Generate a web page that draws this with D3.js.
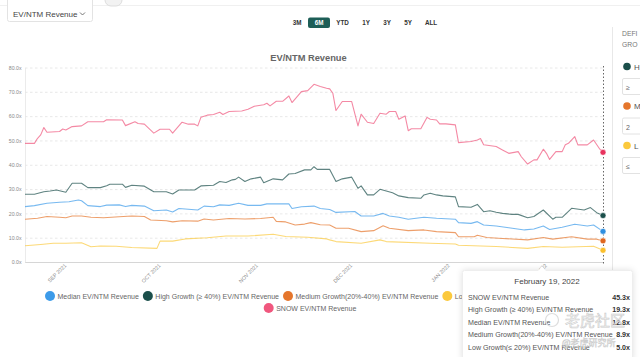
<!DOCTYPE html>
<html><head><meta charset="utf-8">
<script src="https://cdn.jsdelivr.net/npm/d3@7"></script>
<style>body{margin:0;background:#fff;} svg{display:block;font-family:"Liberation Sans",Arial,sans-serif;}</style>
</head><body><svg id="c" width="640" height="357"></svg>
<script>
// ---------- DATA ----------
const chartTitle = "EV/NTM Revenue";
const rangeButtons = ["3M","6M","YTD","1Y","3Y","5Y","ALL"];
const activeRange = "6M";
const yTicks = [0,10,20,30,40,50,60,70,80];
const dateDomain = ["2021-08-19","2022-02-19"];
const seriesNames = ["Median EV/NTM Revenue","High Growth (≥ 40%) EV/NTM Revenue","Medium Growth(20%-40%) EV/NTM Revenue","Low Growth(≤ 20%) EV/NTM Revenue","SNOW EV/NTM Revenue"];
const seriesColors = ["#3d9be9","#1b4f4b","#e5762c","#fbc93d","#f0577e"];

const median = [["2021-08-19",23.0],["2021-08-22",23.4],["2021-08-26",24.4],["2021-08-30",24.8],["2021-09-02",25.0],["2021-09-05",25.7],["2021-09-06",25.4],["2021-09-08",23.4],["2021-09-12",23.0],["2021-09-14",23.6],["2021-09-18",23.7],["2021-09-20",23.0],["2021-09-22",23.5],["2021-09-26",23.2],["2021-09-29",21.3],["2021-10-03",21.6],["2021-10-05",20.8],["2021-10-07",22.2],["2021-10-13",21.6],["2021-10-15",23.2],["2021-10-18",22.9],["2021-10-20",23.7],["2021-10-23",23.5],["2021-10-26",24.4],["2021-10-29",23.5],["2021-11-02",23.5],["2021-11-04",24.1],["2021-11-11",24.1],["2021-11-12",22.2],["2021-11-15",22.9],["2021-11-19",23.2],["2021-11-21",22.2],["2021-11-24",21.8],["2021-11-26",20.6],["2021-12-02",21.0],["2021-12-04",19.1],["2021-12-08",19.1],["2021-12-11",20.2],["2021-12-13",19.1],["2021-12-16",18.6],["2021-12-19",17.8],["2021-12-24",18.6],["2021-12-28",18.2],["2022-01-03",17.8],["2022-01-04",16.4],["2022-01-08",16.1],["2022-01-10",16.8],["2022-01-12",15.4],["2022-01-16",15.0],["2022-01-20",14.3],["2022-01-25",13.4],["2022-01-28",13.8],["2022-01-31",15.0],["2022-02-02",13.6],["2022-02-06",14.5],["2022-02-10",15.7],["2022-02-14",15.0],["2022-02-16",15.4],["2022-02-19",12.8]];

const high = [["2021-08-19",28.1],["2021-08-22",28.1],["2021-08-25",29.1],["2021-08-27",29.4],["2021-08-29",29.8],["2021-09-01",28.9],["2021-09-03",32.6],["2021-09-06",32.6],["2021-09-08",30.8],["2021-09-12",30.8],["2021-09-14",31.6],["2021-09-15",32.2],["2021-09-19",32.2],["2021-09-20",30.9],["2021-09-22",31.8],["2021-09-26",31.4],["2021-09-29",29.1],["2021-10-03",29.1],["2021-10-05",28.2],["2021-10-07",29.8],["2021-10-12",29.8],["2021-10-14",31.5],["2021-10-18",31.8],["2021-10-20",33.3],["2021-10-22",32.9],["2021-10-24",34.0],["2021-10-25",34.2],["2021-10-26",35.1],["2021-10-28",33.3],["2021-10-30",34.4],["2021-11-02",35.1],["2021-11-03",32.8],["2021-11-06",34.4],["2021-11-09",34.0],["2021-11-11",36.4],["2021-11-13",36.6],["2021-11-16",38.1],["2021-11-18",38.1],["2021-11-19",39.4],["2021-11-20",38.3],["2021-11-24",38.3],["2021-11-26",33.3],["2021-11-28",34.4],["2021-12-01",35.1],["2021-12-03",30.5],["2021-12-04",31.5],["2021-12-06",27.8],["2021-12-08",27.8],["2021-12-10",30.1],["2021-12-14",28.7],["2021-12-16",27.4],["2021-12-19",26.7],["2021-12-23",26.4],["2021-12-24",27.8],["2021-12-26",28.5],["2021-12-28",27.8],["2021-12-30",27.4],["2022-01-03",27.0],["2022-01-04",23.0],["2022-01-08",22.7],["2022-01-10",23.9],["2022-01-12",20.9],["2022-01-14",21.3],["2022-01-16",20.7],["2022-01-18",20.2],["2022-01-21",19.8],["2022-01-23",19.8],["2022-01-26",18.4],["2022-01-28",18.9],["2022-01-31",21.6],["2022-02-03",17.8],["2022-02-04",18.6],["2022-02-06",18.6],["2022-02-09",22.3],["2022-02-13",21.6],["2022-02-15",22.6],["2022-02-17",20.5],["2022-02-19",19.3]];

const medium = [["2021-08-19",17.8],["2021-08-23",18.2],["2021-08-26",18.9],["2021-08-30",18.6],["2021-09-01",18.4],["2021-09-03",19.1],["2021-09-06",19.1],["2021-09-09",18.6],["2021-09-13",18.4],["2021-09-18",18.8],["2021-09-22",19.1],["2021-09-26",18.9],["2021-09-28",17.5],["2021-10-03",17.2],["2021-10-05",16.7],["2021-10-08",17.2],["2021-10-13",17.0],["2021-10-15",17.9],["2021-10-18",17.5],["2021-10-23",18.1],["2021-10-28",17.9],["2021-11-02",18.1],["2021-11-06",18.6],["2021-11-07",16.9],["2021-11-10",16.7],["2021-11-13",15.4],["2021-11-16",15.8],["2021-11-18",16.4],["2021-11-21",15.5],["2021-11-24",15.4],["2021-11-26",14.1],["2021-11-30",14.1],["2021-12-04",12.7],["2021-12-08",13.1],["2021-12-11",15.1],["2021-12-13",14.1],["2021-12-19",13.1],["2021-12-24",13.4],["2021-12-28",12.7],["2022-01-03",12.3],["2022-01-04",10.6],["2022-01-09",10.6],["2022-01-10",11.2],["2022-01-13",10.3],["2022-01-18",9.9],["2022-01-26",9.3],["2022-01-31",10.3],["2022-02-03",9.6],["2022-02-09",10.6],["2022-02-14",9.6],["2022-02-17",9.6],["2022-02-19",8.9]];

const low = [["2021-08-19",6.9],["2021-08-24",7.4],["2021-08-28",7.9],["2021-09-01",7.9],["2021-09-06",8.1],["2021-09-09",6.5],["2021-09-12",6.8],["2021-09-17",6.7],["2021-09-22",6.2],["2021-09-30",5.8],["2021-10-01",8.8],["2021-10-05",8.8],["2021-10-09",9.7],["2021-10-16",10.2],["2021-10-22",10.9],["2021-10-29",10.9],["2021-11-06",11.6],["2021-11-10",10.7],["2021-11-17",10.4],["2021-11-23",9.7],["2021-11-24",9.3],["2021-11-26",8.6],["2021-12-04",7.9],["2021-12-10",9.3],["2021-12-12",8.6],["2021-12-26",7.9],["2022-01-03",7.6],["2022-01-04",7.1],["2022-01-16",6.6],["2022-01-26",5.8],["2022-01-31",6.6],["2022-02-06",6.3],["2022-02-16",6.7],["2022-02-19",5.0]];

const snow = [["2021-08-19",49.0],["2021-08-22",49.0],["2021-08-23",51.1],["2021-08-24",52.5],["2021-08-25",55.5],["2021-08-26",53.6],["2021-08-30",53.9],["2021-08-31",54.9],["2021-09-01",54.5],["2021-09-03",55.9],["2021-09-06",56.2],["2021-09-08",57.9],["2021-09-13",57.9],["2021-09-14",58.7],["2021-09-19",58.6],["2021-09-20",56.3],["2021-09-23",57.9],["2021-09-24",57.2],["2021-09-26",56.9],["2021-09-29",53.2],["2021-10-01",54.8],["2021-10-04",54.8],["2021-10-05",53.2],["2021-10-08",57.7],["2021-10-10",56.9],["2021-10-12",56.9],["2021-10-13",56.2],["2021-10-14",59.7],["2021-10-16",60.6],["2021-10-18",60.9],["2021-10-20",61.8],["2021-10-21",60.9],["2021-10-23",62.1],["2021-10-27",62.3],["2021-10-29",63.0],["2021-10-31",64.3],["2021-11-03",64.9],["2021-11-04",65.5],["2021-11-05",64.4],["2021-11-07",66.3],["2021-11-09",66.3],["2021-11-11",68.5],["2021-11-12",65.8],["2021-11-15",70.3],["2021-11-17",70.7],["2021-11-19",73.3],["2021-11-21",72.4],["2021-11-23",71.7],["2021-11-24",71.4],["2021-11-25",69.6],["2021-11-26",62.5],["2021-11-28",66.2],["2021-12-01",66.2],["2021-12-03",56.2],["2021-12-04",61.0],["2021-12-06",57.7],["2021-12-08",57.2],["2021-12-10",61.4],["2021-12-12",61.0],["2021-12-13",62.1],["2021-12-15",62.1],["2021-12-16",58.9],["2021-12-18",60.3],["2021-12-19",54.2],["2021-12-20",55.0],["2021-12-23",55.0],["2021-12-25",59.7],["2021-12-26",58.9],["2021-12-28",58.6],["2021-12-29",57.0],["2021-12-31",57.0],["2022-01-03",56.6],["2022-01-04",49.3],["2022-01-08",49.8],["2022-01-10",50.4],["2022-01-11",51.0],["2022-01-12",48.4],["2022-01-16",47.7],["2022-01-18",46.3],["2022-01-20",44.9],["2022-01-23",45.6],["2022-01-24",43.5],["2022-01-26",40.5],["2022-01-28",42.2],["2022-01-29",42.2],["2022-01-31",46.6],["2022-02-01",44.9],["2022-02-02",42.4],["2022-02-04",45.6],["2022-02-06",45.6],["2022-02-07",48.4],["2022-02-08",49.0],["2022-02-10",51.8],["2022-02-11",48.4],["2022-02-14",48.4],["2022-02-16",50.4],["2022-02-18",46.6],["2022-02-19",45.3]];

const tooltipDate = "February 19, 2022";
const tooltipLabels = ["SNOW EV/NTM Revenue","High Growth (≥ 40%) EV/NTM Revenue","Median EV/NTM Revenue","Medium Growth(20%-40%) EV/NTM Revenue","Low Growth(≤ 20%) EV/NTM Revenue"];
const tooltipValues = ["45.3x","19.3x","12.8x","8.9x","5.0x"];
const panelTitle = ["DEFI","GRO"];
const panelItems = [["H","≥"],["M","2"],["L","≤"]];
const panelColors = ["#1b4f4b","#e5762c","#fbc93d"];
const dropdownLabel = "EV/NTM Revenue";

// ---------- DRAW ----------
const svg = d3.select("#c");
const parse = d3.timeParse("%Y-%m-%d");
const x = d3.scaleTime().domain(dateDomain.map(parse)).range([25, 603]);
const y = d3.scaleLinear().domain([0, 80]).range([262.5, 68]);

// faint top line
svg.append("line").attr("x1",0).attr("x2",640).attr("y1",5.5).attr("y2",5.5).attr("stroke","#f0f0f0");

// dropdown
const dd = svg.append("g");
dd.append("rect").attr("x",7.5).attr("y",-3).attr("width",85).attr("height",24.5).attr("rx",2)
  .attr("fill","#fff").attr("stroke","#e3e3e3");
dd.append("text").attr("x",13).attr("y",16.5).attr("font-size",8).attr("fill","#444").text(dropdownLabel);
dd.append("path").attr("d","M80,12.5 L82.5,15 L85,12.5").attr("fill","none").attr("stroke","#666").attr("stroke-width",0.9);
// toggle pill
svg.append("rect").attr("x",105).attr("y",-6).attr("width",17).attr("height",12).attr("rx",6)
  .attr("fill","#f2f2f2").attr("stroke","#ddd");

// range buttons
const btnX = [297,319,342.5,366,387,408,431];
rangeButtons.forEach((b,i)=>{
  if (b===activeRange) {
    svg.append("rect").attr("x",btnX[i]-11).attr("y",17.5).attr("width",22).attr("height",10.5).attr("rx",2).attr("fill","#1d5e57");
  }
  svg.append("text").attr("x",btnX[i]).attr("y",25.3).attr("text-anchor","middle")
    .attr("font-size",6.3).attr("font-weight","bold").attr("fill", b===activeRange?"#fff":"#333").text(b);
});

// title
svg.append("text").attr("x",308.5).attr("y",60.5).attr("text-anchor","middle")
  .attr("font-size",9.3).attr("font-weight","bold").attr("fill","#666").text(chartTitle);

// gridlines & y labels
yTicks.forEach(t=>{
  if (t>0) svg.append("line").attr("x1",25).attr("x2",603).attr("y1",y(t)).attr("y2",y(t))
    .attr("stroke","#e2e2e2").attr("stroke-width",0.8).attr("stroke-dasharray","2.5,2.5");
  svg.append("text").attr("x",21.5).attr("y",y(t)+1.8).attr("text-anchor","end")
    .attr("font-size",5.2).attr("fill","#888").text(d3.format(".1f")(t)+"x");
});
// axes lines
svg.append("line").attr("x1",25).attr("x2",603).attr("y1",y(0)).attr("y2",y(0)).attr("stroke","#ccc").attr("stroke-width",0.8);
svg.append("line").attr("x1",25.5).attr("x2",25.5).attr("y1",y(80)).attr("y2",y(0)).attr("stroke","#e6e6e6").attr("stroke-width",0.8);

// x axis labels
const xt = x.ticks(d3.timeMonth.every(1));
xt.forEach(t=>{
  svg.append("text").attr("transform",`translate(${x(t)+1},${266}) rotate(-45)`)
    .attr("text-anchor","end").attr("font-size",5.3).attr("fill","#888")
    .text(d3.timeFormat("%b %Y")(t).toUpperCase());
});

// lines
const all = [median, high, medium, low, snow];
const line = d3.line().x(d=>x(parse(d[0]))).y(d=>y(d[1]));
const drawOrder = [3,2,0,1,4];
drawOrder.forEach(i=>{
  svg.append("path").attr("d", line(all[i])).attr("fill","none")
    .attr("stroke", seriesColors[i]).attr("stroke-width",1.1).attr("stroke-opacity",0.7)
    .attr("stroke-linejoin","round");
});

// crosshair
svg.append("line").attr("x1",603.5).attr("x2",603.5).attr("y1",66).attr("y2",265)
  .attr("stroke","#666").attr("stroke-width",1).attr("stroke-dasharray","1.5,2");

// end markers
const endColors = ["#2f8fe0","#1b4f4b","#e0661e","#fbc02d","#e8335e"];
all.forEach((s,i)=>{
  const d = s[s.length-1];
  svg.append("circle").attr("cx",x(parse(d[0]))).attr("cy",y(d[1])).attr("r",3)
    .attr("fill",endColors[i]).attr("stroke","#fff").attr("stroke-width",0.6);
});

// legend
const legFont = 7.0;
const tmp = svg.append("text").attr("font-size",legFont);
function tw(s){ tmp.text(s); return tmp.node().getComputedTextLength(); }
const rows = [[0,1,2,3],[4]];
const rowY = [296, 308];
rows.forEach((r,ri)=>{
  const widths = r.map(i=>10+2.5+tw(seriesNames[i]));
  const total = d3.sum(widths) + 4*(r.length-1);
  let cx = 310 - total/2;
  r.forEach((i,k)=>{
    svg.append("circle").attr("cx",cx+5).attr("cy",rowY[ri]).attr("r",5).attr("fill",seriesColors[i]);
    svg.append("text").attr("x",cx+12.5).attr("y",rowY[ri]+2.5).attr("font-size",legFont).attr("fill","#666").text(seriesNames[i]);
    cx += widths[k] + 4;
  });
});
tmp.remove();

// right panel
svg.append("line").attr("x1",612.5).attr("x2",612.5).attr("y1",27).attr("y2",357).attr("stroke","#e8e8e8");
panelTitle.forEach((t,i)=>{
  svg.append("text").attr("x",622).attr("y",36+i*10.5).attr("font-size",6.8).attr("fill","#777").text(t);
});
panelItems.forEach((p,i)=>{
  const cy = 66.5 + i*39.5;
  svg.append("circle").attr("cx",627).attr("cy",cy).attr("r",3.8).attr("fill",panelColors[i]);
  svg.append("text").attr("x",634).attr("y",cy+3).attr("font-size",8).attr("fill","#555").text(p[0]);
  svg.append("rect").attr("x",622.5).attr("y",cy+12).attr("width",30).attr("height",16).attr("rx",1.5)
    .attr("fill","#fff").attr("stroke","#e2e2e2");
  svg.append("text").attr("x",626).attr("y",cy+23.5).attr("font-size",7).attr("fill","#666").text(p[1]);
});

// tooltip
const tg = svg.append("g");
tg.append("rect").attr("x",462.5).attr("y",270.5).attr("width",170).attr("height",90)
  .attr("fill","#fff").attr("stroke","#eee").attr("rx",2)
  .style("filter","drop-shadow(0 0 3px rgba(0,0,0,0.12))");
tg.append("path").attr("d","M538,271 L542,266 L546,271 Z").attr("fill","#fff");
tg.append("path").attr("d","M539,269 L542,265.5 L545,269").attr("fill","none").attr("stroke","#ccc").attr("stroke-width",0.6);
tg.append("text").attr("x",547).attr("y",284).attr("text-anchor","middle").attr("font-size",8).attr("fill","#444").text(tooltipDate);
tooltipLabels.forEach((l,i)=>{
  const yy = 299.5 + i*12.6;
  tg.append("text").attr("x",468).attr("y",yy).attr("font-size",7.1).attr("fill","#555").text(l);
  tg.append("text").attr("x",630).attr("y",yy).attr("text-anchor","end").attr("font-size",7.1)
    .attr("font-weight","bold").attr("fill","#333").text(tooltipValues[i]);
});

// watermark
svg.append("circle").attr("cx",552).attr("cy",320).attr("r",6.5).attr("fill","none").attr("stroke","#ddd").attr("stroke-width",1.2);
svg.append("text").attr("x",565).attr("y",326).attr("font-family","'Noto Sans CJK SC'").attr("font-size",15)
  .attr("fill","rgba(255,255,255,0.4)").attr("stroke","#ccc").attr("stroke-width",0.6).text("老虎社区");
svg.append("text").attr("x",562).attr("y",346).attr("font-family","'Noto Sans CJK SC'").attr("font-size",9)
  .attr("fill","none").attr("stroke","#ccc").attr("stroke-width",0.5).text("@老虎研究所");
</script></body></html>
